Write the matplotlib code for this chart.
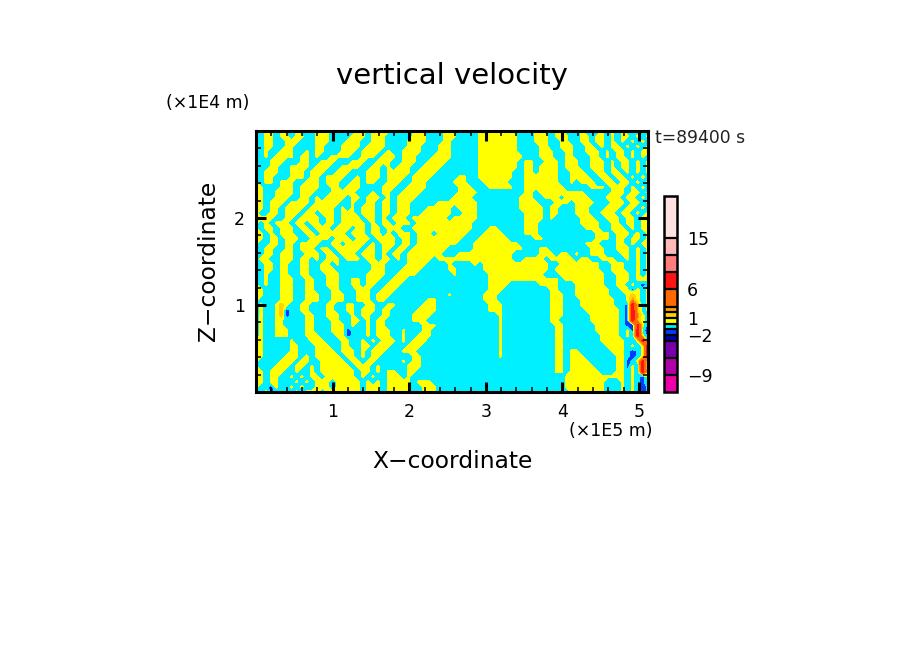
import numpy as np
import matplotlib
matplotlib.use('Agg')
import matplotlib.pyplot as plt
from matplotlib.cm import ScalarMappable
from matplotlib.colors import BoundaryNorm, ListedColormap
from matplotlib.ticker import MultipleLocator, NullLocator

# contour classes, one char per cell, top row first
field_left = [
    "#.##.##.#...###.....##.####....###...##",
    "#.##.##.##..###....###.###.....###...##",
    "#.##..###...###...###..###....####...##",
    "#.##..##....##...####.####....###...###",
    "..#..###..#.##...###.####.#..####...###",
    "..#.####.##.#..####..###.###.###...####",
    "...###...##..###...###..###..###..####.",
    "...##..####.###..####..##.#.###..####..",
    "..###..###.###..###...###.#####.####...",
    "..##...###.##.####..#.###.####.####....",
    "#.##.###..###.###..##.##..###..###.....",
    "##...###.####..##.###....###..####.....",
    "##..####.###...#####...#.##..####......",
    "##..###..##.#.####.##.###.#.####.......",
    "##.###.####.#####..#..##.##.###.....###",
    "##.##.####.#####.#.#.###.##.###...#####",
    "#..##.###.##.###.###.###.##.###..######",
    "####..##.####.##.####.##.#.###.#######.",
    "#.#.###.##.##.##.#####.#.##.###.#######",
    "#.##.###.##.###.###.##.##.###..########",
    "##.#.###..##.#####.###.##.#.###.###.###",
    "##.##.###..####.###.###.####.##.#######",
    "#..##.##.####..##.####.#.###.##.#######",
    "#.##..##.###.##.#####.##.##.##.#######.",
    "#.##.###..###.##.###.###.#.##.#######..",
    ".##..###.##.#.###.###.##.##.#.#####.###",
    "..##.##..##..##.#......###....####....#",
    "#.##.##..##..###.......###...####.....#",
    "#.#..##..##...###.....####..####.......",
    "#.#..###..##..###..##.###..###.........",
    "#.#..###..##..###..##.##..###..........",
    "##...###..##...##...###..###...........",
    "##...###..###..###..###.###...........#",
    "#....###..###..###..###.##........##...",
    ".#..#g#..##...##..##..##..##.....###...",
    ".#..#gb..##...##..##.###.##.....####...",
    ".#..#gb...##..###..#.##..##....####....",
    ".#..##....##...##..##.#.##.....###.....",
    ".#..##....##...###.#..#.##.......###...",
    ".#..###...##...###b...#.###..#...##....",
    ".#..###...###...##b...#.###..#..###....",
    "##.....#...###...##..#.#.###.#.###.....",
    "##.....##...###..##..##.###...###......",
    "##.....##...####.###.#.###...###.......",
    "##....###.#.#####.##.#.##......##......",
    "#....###.##..#####.##.##.....#.##......",
    "#...###.##.#.######.###.#.....###......",
    "##.###..#..#.#######.##.#.##..##.......",
    "##.##..#.#.##.######.#.#..###.#........",
    "##.##...#.#.###.#####.#.#.#####.###....",
    "#..b#..#.#..###.#####.###.#####..###...",
    "#.#b..#.#.###.#######.###.#####..###...",
]
field_right = [
    "#....########...##..##...#.#.#.#.#.#.#.",
    "#....########...###.###..##.##.#.##.#.#",
    ".....########...###..##..##.##.#.#.#.#.",
    ".....########....##..###..##.#.##.#.#.#",
    ".....########....###..##..###.#.##.#.##",
    ".....#########...###..##...##.#.##.#.#.",
    ".....########.##..###.###..###.#.##.#.#",
    ".....########.##.####.###..###.#.##.#.#",
    ".....#######..##.####..###..##.##.#.#.#",
    ".##..#######..#######..####..##.##.#.#.",
    "###...#####...#######..#.###..##.##.#.#",
    ".###...#####..########.....###.###.#.#.",
    ".####.........##.#########.....###.##.#",
    "####.........###..###.#####...###.##.#.",
    "#####........####...###.####...###.##.#",
    ".####........#####.##...###...###.##.#.",
    "..###.........####.##...###..###.##.#.#",
    "#####.........####.#.....###..###.##.##",
    "####..........###........####..##.##.##",
    "####...##.....###.........###..###.#.##",
    "###...####....###...........###.###.#.#",
    "##...######.....##..........###.##.##.#",
    "#...#########.............###...##.#.##",
    "....##########...##........###..###.#.#",
    ".###########.....###.##.#..###...##.#.#",
    "############..####.#####.##..###..#.#.#",
    "....#.#############..########..###..#.#",
    "#.....#############.#########..###..#.#",
    "#......###########...#########..###.#.#",
    ".......##############.########..###.###",
    ".......####......####...######..##.#.b",
    ".......###.........##...#######..##b#.#",
    "......###..........###..#######...#g#.#",
    "......###..........###...#######..#o#.#",
    ".......###.........###...#######..brg.#",
    ".......###.........###....#######.brg.#",
    ".........#.........###.....######.bro#.",
    ".........#.........##......######.brg#.",
    ".........#..........##......#####.bdr#b",
    ".........#..........##......#####.#br.b",
    ".........#..........##.......####.#.r#b",
    ".........#..........##.......#####..#rb",
    ".........#..........##........####.#.#r",
    ".........#..........##.##......###.b.#r",
    ".........#..........##.###......##.b.#r",
    "....................##.####.....##b.#r.",
    "....................##.#####....##b#.r.",
    "....................##.######...##.#.r#",
    "......................############.#.b#",
    "......................########...#.#.b#",
    "......................########...#.#.b.",
    ".......................#######...#.#.b.",
]
class_values = {'.': -0.75, '#': 0.25, 'g': 1.5, 'o': 2.5, 'r': 7.5, 'b': -1.5, 'd': -2.5}

levels = [-12, -9, -6, -3, -2, -1, 0, 1, 2, 3, 6, 9, 12, 15, 22.4]
level_colors = ['#ec00a8', '#b000a8', '#7800a8', '#0000a8', '#003cff', '#00f0ff', '#ffff00',
                '#ffd200', '#ffa000', '#ff6900', '#ff1414', '#ff7d7d', '#ffb9b9', '#ffe1e1']
cbar_ticks = [-9, -2, 1, 6, 15]

xmax, zmax = 5.117, 3.0
W, H = 904, 654


def px_axes(x0, y0, x1, y1):
    return [x0/W, 1-y1/H, (x1-x0)/W, (y1-y0)/H]


ncol = 78
rows = [(l + r).ljust(ncol, '.')[:ncol] for l, r in zip(field_left, field_right)]
grid = np.array([[class_values[c] for c in row] for row in rows])[::-1]
x = np.linspace(0, xmax, grid.shape[1])
z = np.linspace(0, zmax, grid.shape[0])

cmap = ListedColormap(level_colors)
norm = BoundaryNorm(levels, cmap.N)

fig = plt.figure(figsize=(W/100, H/100), dpi=100)
ax = fig.add_axes(px_axes(256, 131, 648, 392))
ax.contourf(x, z, grid, levels=levels, cmap=cmap, norm=norm, antialiased=False)
ax.set_xlim(0, xmax)
ax.set_ylim(0, zmax)

ax.xaxis.set_minor_locator(MultipleLocator(0.2))
ax.yaxis.set_minor_locator(MultipleLocator(0.2))
ax.set_xticks([1, 2, 3, 4, 5])
ax.set_yticks([1, 2])
ax.tick_params(which='major', direction='in', top=True, right=True, length=7, width=2.2,
               labelsize=12.5, pad=8)
ax.tick_params(which='minor', direction='in', top=True, right=True, length=3.5, width=1.1)
for s in ax.spines.values():
    s.set_linewidth(2.2)
    s.set_zorder(5)

cax = fig.add_axes(px_axes(664, 196, 677, 392))
cb = fig.colorbar(ScalarMappable(norm=norm, cmap=cmap), cax=cax, spacing='proportional',
                  ticks=cbar_ticks, drawedges=True)
cb.dividers.set_color('black')
cb.dividers.set_linewidth(1.6)
cb.outline.set_linewidth(1.8)
cax.tick_params(length=0, labelsize=12.5, pad=7)
cax.yaxis.set_minor_locator(NullLocator())


def put(px, py, s, **kw):
    fig.text(px/W, 1-py/H, s, va='center', **kw)


put(452, 76, 'vertical velocity', ha='center', fontsize=21)
put(208, 103, '(×1E4 m)', ha='center', fontsize=12.5)
put(611, 431, '(×1E5 m)', ha='center', fontsize=12.5)
put(452, 461, 'X−coordinate', ha='center', fontsize=16.8)
put(209, 261, 'Z−coordinate', ha='center', rotation=90, fontsize=16.8)
put(655, 138, 't=89400 s', ha='left', fontsize=12.3, color='#222222')

fig.savefig('out.png', dpi=100)
